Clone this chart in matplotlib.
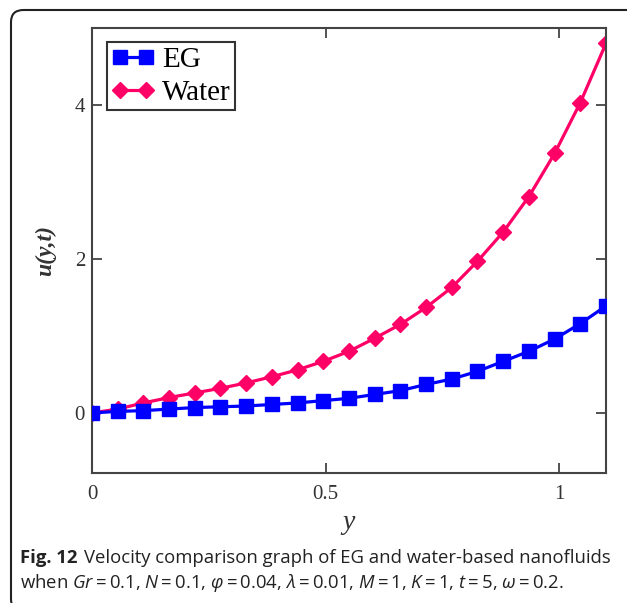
import matplotlib
matplotlib.use("Agg")
import matplotlib.pyplot as plt
from matplotlib.patches import FancyBboxPatch

# values
y_pos = [0.0, 0.055, 0.11, 0.165, 0.22, 0.275, 0.33, 0.385, 0.44, 0.495, 0.55,
         0.605, 0.66, 0.715, 0.77, 0.825, 0.88, 0.935, 0.99, 1.045, 1.1]
u_eg = [0.0, 0.02, 0.03, 0.05, 0.07, 0.08, 0.09, 0.11, 0.13, 0.16, 0.19,
        0.24, 0.29, 0.37, 0.44, 0.54, 0.67, 0.80, 0.96, 1.16, 1.39]
u_water = [0.0, 0.05, 0.13, 0.20, 0.26, 0.32, 0.39, 0.47, 0.56, 0.67, 0.80,
           0.97, 1.15, 1.37, 1.63, 1.97, 2.35, 2.81, 3.37, 4.03, 4.80]
x_ticks = [0, 0.5, 1]
x_tick_labels = ["0", "0.5", "1"]
y_ticks = [0, 2, 4]
y_tick_labels = ["0", "2", "4"]

plt.rcParams['mathtext.fontset'] = 'custom'
plt.rcParams['mathtext.rm'] = 'Open Sans'
plt.rcParams['mathtext.it'] = 'Open Sans:italic'

fig = plt.figure(figsize=(6.27, 6.03), dpi=100)
ax = fig.add_axes([0.1467, 0.2156, 0.8198, 0.738])

ax.plot(y_pos, u_eg, color="#0000ff", lw=2.3, marker="s", ms=10.5, label="EG", zorder=3)
ax.plot(y_pos, u_water, color="#ff0066", lw=2.3, marker="D", ms=8.5, label="Water", zorder=2)

ax.set_xlim(0, 1.1)
ax.set_ylim(-0.78, 5)
ax.set_xticks(x_ticks)
ax.set_xticklabels(x_tick_labels)
ax.set_yticks(y_ticks)
ax.set_yticklabels(y_tick_labels)
ax.tick_params(direction="in", length=7, width=1.3, color="#444444",
               top=True, right=True, labelsize=15, pad=5)
ax.tick_params(axis="x", pad=9)
for lab in ax.get_xticklabels() + ax.get_yticklabels():
    lab.set_family("Liberation Serif")
    lab.set_color("#333333")
for sp in ax.spines.values():
    sp.set_color("#444444")
    sp.set_linewidth(1.5)

ax.set_xlabel("y", family="Liberation Serif", style="italic", fontsize=20, color="#333333", labelpad=4)
ax.set_ylabel("u(y,t)", family="Liberation Serif", style="italic", weight="bold",
              fontsize=17, color="#333333", labelpad=13)

leg = ax.legend(loc="upper left", bbox_to_anchor=(0.029, 0.968), fancybox=False,
                edgecolor="#333333", framealpha=1, numpoints=2, handlelength=1.5,
                handletextpad=0.25, borderpad=0.15, labelspacing=0.22, borderaxespad=0,
                prop={"family": "Liberation Serif", "size": 21})
leg.get_frame().set_linewidth(1.5)

# rounded outer frame
box = FancyBboxPatch((11 / 627, -8 / 603), 660 / 627, 601 / 603,
                     boxstyle="round,pad=0,rounding_size=0.02",
                     transform=fig.transFigure, fill=False, ec="#222222", lw=1.5, clip_on=False)
fig.patches.append(box)

cap_size = 13.3
t1 = fig.text(20 / 627, 1 - 563 / 603, "Fig. 12", family="Open Sans", weight="bold",
              fontsize=cap_size, color="#222222")
fig.canvas.draw()
bb = t1.get_window_extent()
fig.text((bb.x1 + 6) / 627, 1 - 563 / 603, "Velocity comparison graph of EG and water-based nanofluids",
         family="Open Sans", fontsize=cap_size, color="#222222")
fig.text(20 / 627, 1 - 588 / 603,
         r"when $Gr=0.1$, $N=0.1$, $\varphi=0.04$, $\lambda=0.01$, $M=1$, $K=1$, $t=5$, $\omega=0.2$.",
         family="Open Sans", fontsize=cap_size, color="#222222")

fig.savefig("out.png", dpi=100)
